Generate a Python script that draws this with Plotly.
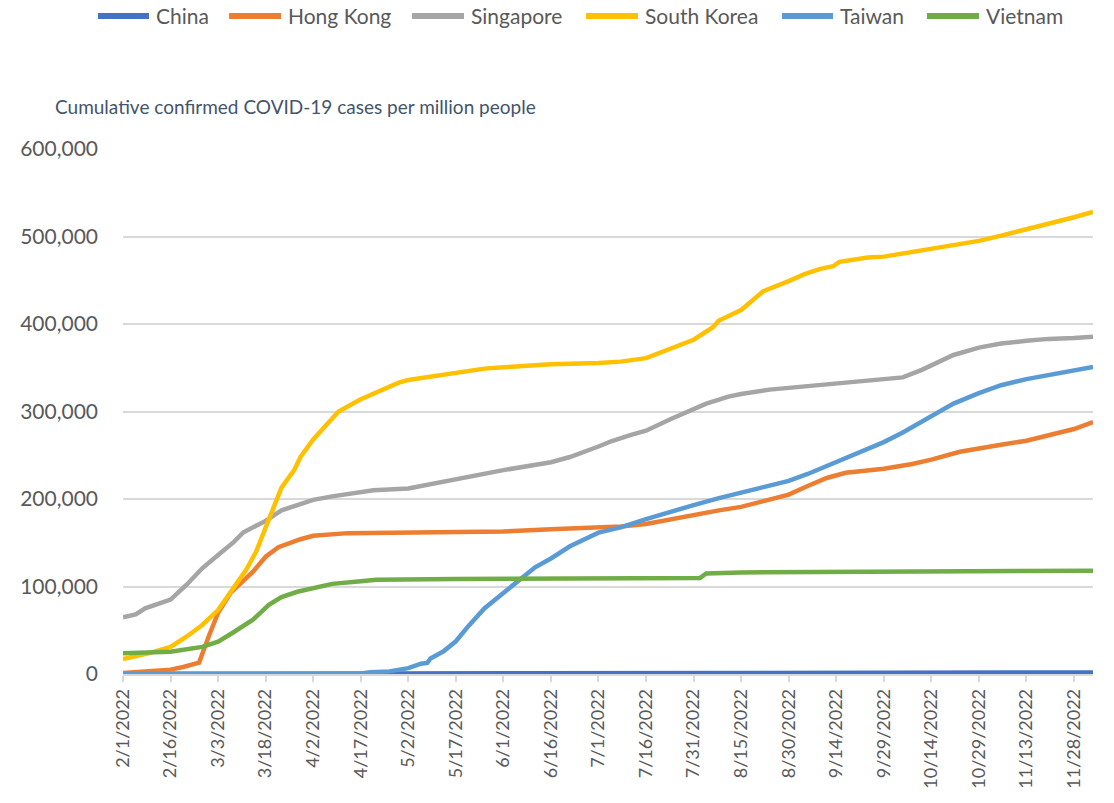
import plotly.graph_objects as go

# Cumulative confirmed COVID-19 cases per million people, 2022

china_dates = ["2022-02-01", "2022-06-01", "2022-10-01", "2022-11-15", "2022-12-04"]
china_vals = [150, 300, 600, 1000, 1800]

hong_kong_dates = [
    "2022-02-01", "2022-02-16", "2022-02-20", "2022-02-25", "2022-02-28",
    "2022-03-03", "2022-03-07", "2022-03-14", "2022-03-18", "2022-03-22", "2022-03-29",
    "2022-04-02", "2022-04-13", "2022-04-22", "2022-05-17", "2022-06-01", "2022-06-16",
    "2022-07-01", "2022-07-08", "2022-07-16", "2022-07-24", "2022-07-31", "2022-08-08",
    "2022-08-15", "2022-08-22", "2022-08-30", "2022-09-05", "2022-09-11", "2022-09-17",
    "2022-09-24", "2022-09-29", "2022-10-08", "2022-10-14", "2022-10-23", "2022-10-29",
    "2022-11-05", "2022-11-13", "2022-11-20", "2022-11-28", "2022-12-04",
]
hong_kong_vals = [
    1000, 5000, 8000, 13000, 42600,
    70000, 93000, 117000, 134000, 145000, 154000,
    158000, 161000, 161500, 162400, 162800, 165500,
    167500, 168500, 171500, 177000, 182000, 187000,
    191000, 197000, 205000, 214800, 224000, 230000,
    233000, 234500, 240000, 245000, 254000, 258000,
    262000, 266600, 272500, 280000, 288000,
]

singapore_dates = [
    "2022-02-01", "2022-02-05", "2022-02-08", "2022-02-14", "2022-02-16", "2022-02-21",
    "2022-02-26", "2022-03-03", "2022-03-08", "2022-03-11", "2022-03-18", "2022-03-23",
    "2022-03-28", "2022-04-02", "2022-04-08", "2022-04-17", "2022-04-21", "2022-05-02",
    "2022-05-17", "2022-06-01", "2022-06-16", "2022-06-22", "2022-07-01", "2022-07-05",
    "2022-07-11", "2022-07-16", "2022-07-24", "2022-07-31", "2022-08-04", "2022-08-11",
    "2022-08-15", "2022-08-24", "2022-08-30", "2022-09-14", "2022-09-24", "2022-09-29",
    "2022-10-05", "2022-10-11", "2022-10-16", "2022-10-21", "2022-10-29", "2022-11-05",
    "2022-11-13", "2022-11-20", "2022-11-28", "2022-12-04",
]
singapore_vals = [
    64800, 68000, 75000, 82000, 85000, 101700,
    120800, 136000, 151000, 162000, 175000, 187000,
    193000, 199000, 203000, 207000, 210000, 212000,
    222700, 233000, 242000, 248000, 260000, 266000,
    273000, 278000, 291700, 303500, 309000, 317000,
    320000, 325000, 327000, 332000, 335000, 336500,
    339000, 347600, 356700, 364600, 373000, 377600,
    380800, 383000, 384000, 385500,
]

south_korea_dates = [
    "2022-02-01", "2022-02-09", "2022-02-16", "2022-02-21", "2022-02-26", "2022-03-03",
    "2022-03-08", "2022-03-12", "2022-03-15", "2022-03-18", "2022-03-21", "2022-03-23",
    "2022-03-27", "2022-03-29", "2022-04-02", "2022-04-07", "2022-04-10", "2022-04-17",
    "2022-04-20", "2022-04-29", "2022-05-02", "2022-05-14", "2022-05-17", "2022-05-26",
    "2022-06-01", "2022-06-16", "2022-07-01", "2022-07-08", "2022-07-16", "2022-07-24",
    "2022-07-31", "2022-08-06", "2022-08-08", "2022-08-15", "2022-08-19", "2022-08-22",
    "2022-08-30", "2022-09-04", "2022-09-09", "2022-09-13", "2022-09-15", "2022-09-24",
    "2022-09-29", "2022-10-14", "2022-10-23", "2022-10-29", "2022-11-05", "2022-11-13",
    "2022-11-20", "2022-11-28", "2022-12-04",
]
south_korea_vals = [
    17000, 23600, 31000, 42600, 56000, 73000,
    99000, 120000, 140000, 168000, 197000, 213000,
    233000, 248000, 268000, 288000, 300000, 314000,
    319000, 333000, 336000, 343000, 345000, 349000,
    350500, 354000, 355500, 357000, 361000, 372500,
    382000, 396000, 404000, 416000, 427700, 437500,
    449000, 457000, 463000, 466000, 471000, 476000,
    477000, 486000, 491000, 495000, 501000, 508000,
    514600, 522000, 528000,
]

taiwan_dates = [
    "2022-02-01", "2022-04-01", "2022-04-17", "2022-04-20", "2022-04-26", "2022-05-02",
    "2022-05-06", "2022-05-08", "2022-05-09", "2022-05-13", "2022-05-17", "2022-05-21",
    "2022-05-26", "2022-06-01", "2022-06-06", "2022-06-11", "2022-06-16", "2022-06-22",
    "2022-07-01", "2022-07-08", "2022-07-16", "2022-07-24", "2022-07-31", "2022-08-08",
    "2022-08-15", "2022-08-24", "2022-08-30", "2022-09-05", "2022-09-14", "2022-09-19",
    "2022-09-24", "2022-09-29", "2022-10-05", "2022-10-11", "2022-10-16", "2022-10-21",
    "2022-10-29", "2022-11-05", "2022-11-13", "2022-11-20", "2022-11-28", "2022-12-04",
]
taiwan_vals = [
    0, 200, 500, 2000, 3000, 6700,
    11800, 12600, 17700, 25600, 37400, 55000,
    75000, 92600, 108000, 122000, 132000, 146000,
    161600, 167500, 177000, 186000, 193000, 201000,
    207000, 214800, 220700, 228600, 242000, 250000,
    258000, 265000, 276000, 288500, 299600, 309000,
    321000, 330000, 337000, 342000, 347000, 350800,
]

vietnam_dates = [
    "2022-02-01", "2022-02-16", "2022-02-26", "2022-03-03", "2022-03-08", "2022-03-14",
    "2022-03-19", "2022-03-23", "2022-03-28", "2022-04-02", "2022-04-08", "2022-04-17",
    "2022-04-22", "2022-05-17", "2022-07-01", "2022-08-02", "2022-08-04", "2022-08-15",
    "2022-09-24", "2022-12-04",
]
vietnam_vals = [
    23600, 25500, 31000, 37000, 48000, 62000,
    79000, 88000, 94000, 98500, 103000, 106000,
    107600, 108500, 109500, 109600, 115000, 116000,
    117000, 118000,
]

series = [
    ("China", china_dates, china_vals, "#4472C4"),
    ("Hong Kong", hong_kong_dates, hong_kong_vals, "#ED7D31"),
    ("Singapore", singapore_dates, singapore_vals, "#A5A5A5"),
    ("South Korea", south_korea_dates, south_korea_vals, "#FFC000"),
    ("Taiwan", taiwan_dates, taiwan_vals, "#5B9BD5"),
    ("Vietnam", vietnam_dates, vietnam_vals, "#70AD47"),
]

tick_dates = [
    "2022-02-01", "2022-02-16", "2022-03-03", "2022-03-18", "2022-04-02", "2022-04-17",
    "2022-05-02", "2022-05-17", "2022-06-01", "2022-06-16", "2022-07-01", "2022-07-16",
    "2022-07-31", "2022-08-15", "2022-08-30", "2022-09-14", "2022-09-29", "2022-10-14",
    "2022-10-29", "2022-11-13", "2022-11-28",
]
tick_text = [
    "2/1/2022", "2/16/2022", "3/3/2022", "3/18/2022", "4/2/2022", "4/17/2022",
    "5/2/2022", "5/17/2022", "6/1/2022", "6/16/2022", "7/1/2022", "7/16/2022",
    "7/31/2022", "8/15/2022", "8/30/2022", "9/14/2022", "9/29/2022", "10/14/2022",
    "10/29/2022", "11/13/2022", "11/28/2022",
]

FONT = "Lato"
GREY_TXT = "#595959"
GRID = "#D9D9D9"

# Plot-area geometry in pixels (used to lay out the legend row above it)
W, H = 1114, 803
M_L, M_R, M_T, M_B = 123, 21, 149, 129
PW, PH = W - M_L - M_R, H - M_T - M_B


def px_x(px):
    return (px - M_L) / PW


def px_y(py):
    return (H - M_B - py) / PH


fig = go.Figure()
for name, xs, ys, color in series:
    fig.add_trace(go.Scatter(
        x=xs, y=ys, name=name, mode="lines",
        line=dict(color=color, width=4.5, shape="linear"),
        showlegend=False,
    ))

# Legend row: swatch line followed by the series name
legend_swatch = [(96, 151), (227, 283), (410, 466), (584, 640), (780, 835), (925, 981)]
legend_y = 16
shapes = []
annotations = []
for (name, _, _, color), (x0, x1) in zip(series, legend_swatch):
    shapes.append(dict(
        type="line", xref="paper", yref="paper",
        x0=px_x(x0 + 2), x1=px_x(x1 - 2), y0=px_y(legend_y), y1=px_y(legend_y),
        line=dict(color=color, width=6),
    ))
    annotations.append(dict(
        text=name, xref="paper", yref="paper",
        x=px_x(x1 + 3), y=px_y(legend_y), xanchor="left", yanchor="middle",
        showarrow=False, font=dict(size=21, color=GREY_TXT, family=FONT),
    ))

annotations.append(dict(
    text="Cumulative confirmed COVID-19 cases per million people",
    xref="paper", yref="paper", x=px_x(53), y=px_y(107),
    xanchor="left", yanchor="middle", showarrow=False,
    font=dict(size=19, color="#44546A", family=FONT),
))

fig.update_layout(
    width=W, height=H,
    margin=dict(l=M_L, r=M_R, t=M_T, b=M_B),
    paper_bgcolor="white", plot_bgcolor="white",
    font=dict(family=FONT, color=GREY_TXT),
    showlegend=False,
    shapes=shapes,
    annotations=annotations,
)

fig.update_xaxes(
    type="date", range=["2022-02-01", "2022-12-04"],
    tickmode="array", tickvals=tick_dates, ticktext=tick_text,
    tickangle=-90, tickfont=dict(size=18, color=GREY_TXT),
    ticks="outside", ticklen=6, tickcolor=GRID, tickwidth=1.5,
    showgrid=False, showline=True, linecolor=GRID, linewidth=1.5,
    zeroline=False, automargin=False,
)
fig.update_yaxes(
    range=[0, 600000], tickvals=[0, 100000, 200000, 300000, 400000, 500000, 600000],
    tickformat=",", tickfont=dict(size=21, color=GREY_TXT),
    showgrid=True, gridcolor=GRID, gridwidth=1.5, zeroline=False,
    ticks="", ticklabelstandoff=24, showline=False, automargin=False,
)

fig.write_html("out.html")
